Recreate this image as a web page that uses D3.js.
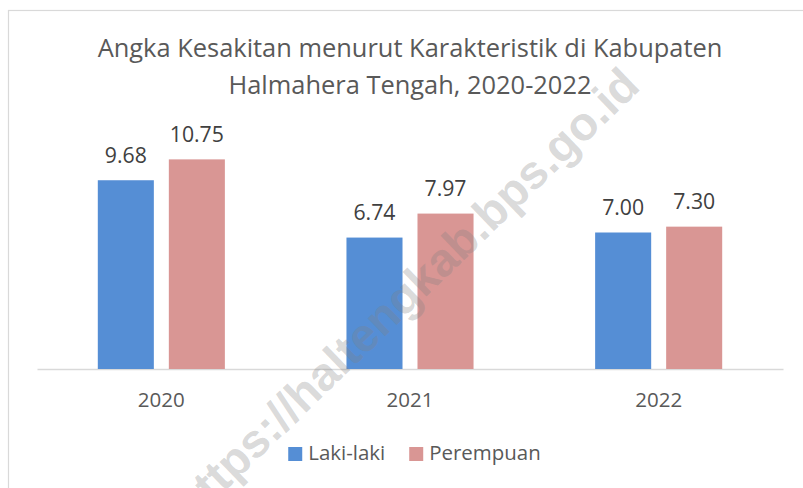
<!DOCTYPE html>
<html><head><meta charset="utf-8">
<script src="https://cdn.jsdelivr.net/npm/d3@7"></script>
<style>html,body{margin:0;padding:0;background:#fff}svg{display:block}</style>
</head><body>
<script>
const titleLines = ["Angka Kesakitan menurut Karakteristik di Kabupaten", "Halmahera Tengah, 2020-2022"];
const years = ["2020", "2021", "2022"];
const seriesNames = ["Laki-laki", "Perempuan"];
const lakiLaki = [9.68, 6.74, 7.00];
const perempuan = [10.75, 7.97, 7.30];
const seriesColors = ["#558ed5", "#d99694"];
const watermark = "https://haltengkab.bps.go.id";

const W = 803, H = 488;
const FONT = "'Open Sans', 'Noto Sans', sans-serif";
const svg = d3.select("body").append("svg").attr("width", W).attr("height", H);
svg.append("rect").attr("width", W).attr("height", H).attr("fill", "#fff");
// chart frame
svg.append("rect").attr("x", 8.5).attr("y", 10.5).attr("width", 810).attr("height", 500)
  .attr("fill", "none").attr("stroke", "#d9d9d9").attr("stroke-width", 1.2);

function fit(sel, target) {
  const w = sel.node().getComputedTextLength();
  const fs = parseFloat(sel.attr("font-size"));
  const nfs = fs * target / w;
  sel.attr("font-size", nfs);
  return nfs;
}

const plot = {left: 37, right: 783, top: 135, bottom: 369};
const x0 = d3.scaleBand().domain(years).range([plot.left, plot.right]).paddingInner(0).paddingOuter(0);
const groupW = x0.bandwidth() * 0.511;
const x1 = d3.scaleBand().domain(seriesNames)
  .range([x0.bandwidth() / 2 - groupW / 2, x0.bandwidth() / 2 + groupW / 2]).paddingInner(0.211);
const y = d3.scaleLinear().domain([0, 12]).range([plot.bottom, plot.top]);

const data = years.map((yr, i) => ({year: yr, vals: [
  {s: seriesNames[0], v: lakiLaki[i], c: seriesColors[0]},
  {s: seriesNames[1], v: perempuan[i], c: seriesColors[1]}]}));

// baseline axis
const axis = d3.axisBottom(x0).tickSize(0).tickPadding(0);
const axG = svg.append("g").attr("transform", `translate(0,${plot.bottom})`).call(axis);
axG.select(".domain").attr("stroke", "#d9d9d9").attr("stroke-width", 1.5);
axG.selectAll(".tick text").attr("font-family", FONT).attr("font-size", 20).attr("fill", "#595959")
  .attr("dy", null).attr("y", 38);
const axFs = fit(axG.select(".tick text"), 47);
axG.selectAll(".tick text").attr("font-size", axFs);

// bars
const groups = svg.selectAll("g.grp").data(data).join("g").attr("class", "grp")
  .attr("transform", d => `translate(${x0(d.year)},0)`);
groups.selectAll("rect").data(d => d.vals).join("rect")
  .attr("x", d => x1(d.s)).attr("width", x1.bandwidth())
  .attr("y", d => y(d.v)).attr("height", d => y(0) - y(d.v))
  .attr("fill", d => d.c);
const labels = groups.selectAll("text").data(d => d.vals).join("text")
  .attr("x", d => x1(d.s) + x1.bandwidth() / 2).attr("y", d => y(d.v) - 17.5)
  .attr("text-anchor", "middle").attr("font-family", FONT).attr("font-size", 20)
  .attr("fill", "#404040").text(d => d.v.toFixed(2));
const lblFs = fit(d3.select(labels.nodes()[0]), 42);
labels.attr("font-size", lblFs);

// title
const t1 = svg.append("text").attr("x", 410).attr("y", 56.5).attr("text-anchor", "middle")
  .attr("font-family", FONT).attr("font-size", 24).attr("fill", "#595959").text(titleLines[0]);
const tFs = fit(t1, 625);
svg.append("text").attr("x", 410).attr("y", 94).attr("text-anchor", "middle")
  .attr("font-family", FONT).attr("font-size", tFs).attr("fill", "#595959").text(titleLines[1]);

// legend
const leg = svg.append("g");
const items = leg.selectAll("g").data(seriesNames).join("g");
items.append("rect").attr("width", 14).attr("height", 14).attr("y", 447)
  .attr("fill", (d, i) => seriesColors[i]);
const legTexts = items.append("text").attr("y", 460).attr("font-family", FONT).attr("font-size", 20)
  .attr("fill", "#595959").text(d => d);
const legFs = fit(d3.select(legTexts.nodes()[0]), 77);
legTexts.attr("font-size", legFs);
let cx = 0; const pos = [];
legTexts.each(function(d, i) {
  pos.push(cx);
  cx += 14 + 6 + this.getComputedTextLength() + 24;
});
const totalW = cx - 24;
const startX = 414.5 - totalW / 2;
items.attr("transform", (d, i) => `translate(${startX + pos[i]},0)`);
legTexts.attr("x", 20);

// watermark
svg.append("text").attr("transform", "translate(408,297) rotate(-44)")
  .attr("text-anchor", "middle").attr("dominant-baseline", "middle")
  .attr("font-family", "'Liberation Sans', Arial, sans-serif").attr("font-weight", "bold")
  .attr("font-size", 47).attr("fill", "#808080").attr("fill-opacity", 0.3).text(watermark);
</script>
</body></html>
